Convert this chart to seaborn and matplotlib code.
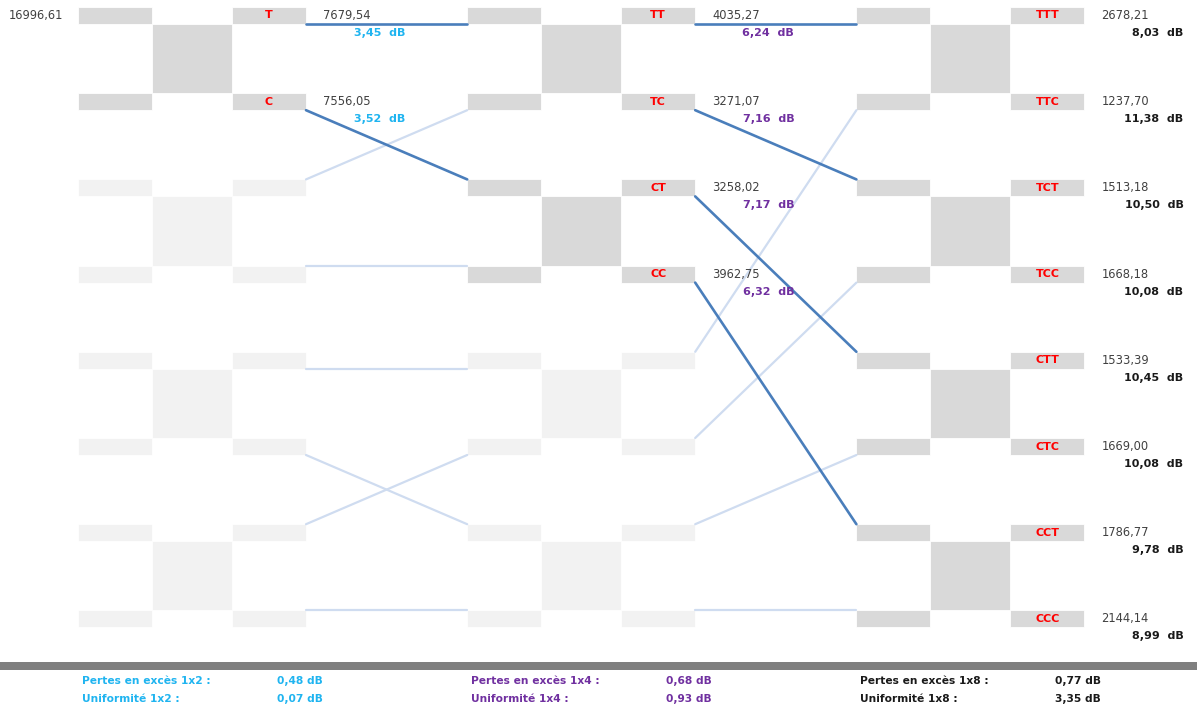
import pandas as pd
import matplotlib.pyplot as plt
from matplotlib.patches import Rectangle
import seaborn as sns

# --- data ---
input_power = 16996.61

stage1_ports = ["T", "C"]
stage1_power = [7679.54, 7556.05]
stage1_db = [3.45, 3.52]

stage2_ports = ["TT", "TC", "CT", "CC"]
stage2_power = [4035.27, 3271.07, 3258.02, 3962.75]
stage2_db = [6.24, 7.16, 7.17, 6.32]

stage3_ports = ["TTT", "TTC", "TCT", "TCC", "CTT", "CTC", "CCT", "CCC"]
stage3_power = [2678.21, 1237.70, 1513.18, 1668.18, 1533.39, 1669.00, 1786.77, 2144.14]
stage3_db = [8.03, 11.38, 10.50, 10.08, 10.45, 10.08, 9.78, 8.99]

split_names = ["1x2", "1x4", "1x8"]
excess_loss = [0.48, 0.68, 0.77]
uniformity = [0.07, 0.93, 3.35]

stage_colors = ["#1fb4f0", "#7030a0", "#1a1a1a"]

stages = [
    (stage1_ports, stage1_power, stage1_db),
    (stage2_ports, stage2_power, stage2_db),
    (stage3_ports, stage3_power, stage3_db),
]

# --- layout (pixel units) ---
W, H = 1197, 708
row_y0, row_step, box_h = 7, 86.2, 17
stage_x0, stage_step = 78, 389.2
small_w, big_w = 74, 80
n_rows = 8

DARK_BOX = "#d9d9d9"
LIGHT_BOX = "#f2f2f2"
DARK_LINE = "#4a7ebb"
LIGHT_LINE = "#cfdcf0"
TXT = "#404040"


def fmt(v):
    return f"{v:.2f}".replace(".", ",")


def top(r):
    return row_y0 + r * row_step


def bottom(r):
    return top(r) + box_h


sns.set_theme(style="white")
plt.rcParams["font.family"] = ["DejaVu Sans"]

fig = plt.figure(figsize=(W / 100, H / 100), dpi=100)
ax = fig.add_axes([0, 0, 1, 1])

# couplers
for k in range(3):
    x0 = stage_x0 + k * stage_step
    for j in range(4):
        c = DARK_BOX if j < 2 ** k else LIGHT_BOX
        r0, r1 = 2 * j, 2 * j + 1
        for r in (r0, r1):
            ax.add_patch(Rectangle((x0, top(r)), small_w, box_h, fc=c, ec="white", lw=0.6))
            ax.add_patch(Rectangle((x0 + small_w + big_w, top(r)), small_w, box_h,
                                   fc=c, ec="white", lw=0.6))
        ax.add_patch(Rectangle((x0 + small_w, bottom(r0)), big_w, top(r1) - bottom(r0),
                               fc=c, ec="white", lw=0.6))

# shuffle connections between stages
segs = []
for k, g in enumerate([4, 8]):
    xa = stage_x0 + k * stage_step + 2 * small_w + big_w
    xb = stage_x0 + (k + 1) * stage_step
    n_active = 2 ** (k + 1)
    for s in range(n_rows):
        p = s % g
        base = s - p
        d = base + (2 * p if p < g // 2 else 2 * (p - g // 2) + 1)
        if d > s:
            ya, yb = bottom(s), top(d)
        elif d < s:
            ya, yb = top(s), bottom(d)
        else:
            ya = yb = bottom(s) if p < g // 2 else top(s)
        seg_id = f"{k}-{s}"
        act = s < n_active
        segs.append({"seg": seg_id, "x": xa, "y": ya, "active": act})
        segs.append({"seg": seg_id, "x": xb, "y": yb, "active": act})
lines = pd.DataFrame(segs)

sns.lineplot(data=lines[~lines["active"]], x="x", y="y", units="seg", estimator=None,
             sort=False, color=LIGHT_LINE, lw=1.6, ax=ax)
sns.lineplot(data=lines[lines["active"]], x="x", y="y", units="seg", estimator=None,
             sort=False, color=DARK_LINE, lw=1.9, ax=ax)
ax.set_xlim(0, W)
ax.set_ylim(H, 0)
ax.axis("off")

# input power
ax.text(9, top(0) + box_h / 2, fmt(input_power), color=TXT, fontsize=8.3,
        ha="left", va="center")

# port labels, powers and dB values
for k, (ports, power, db) in enumerate(stages):
    x0 = stage_x0 + k * stage_step
    xl = x0 + small_w + big_w + small_w / 2
    for r, (name, pw, d) in enumerate(zip(ports, power, db)):
        yc = top(r) + box_h / 2
        ax.text(xl, yc, name, color="#ff0000", fontsize=8, fontweight="bold",
                ha="center", va="center")
        ax.text(x0 + 245, yc, fmt(pw), color=TXT, fontsize=8.3, ha="left", va="center")
        ax.text(x0 + 327, yc + 17.5, f"{fmt(d)}  dB", color=stage_colors[k],
                fontsize=8, fontweight="bold", ha="right", va="center")

# footer bar and summary
ax.add_patch(Rectangle((0, 662), W, 8, fc="#7f7f7f", ec="none"))
for k in range(3):
    x0 = stage_x0 + k * stage_step
    c = stage_colors[k]
    for yy, label, val in [(681.5, "Pertes en excès", excess_loss[k]),
                           (698.5, "Uniformité", uniformity[k])]:
        ax.text(x0 + 4, yy, f"{label} {split_names[k]} :", color=c,
                fontsize=7.7, fontweight="bold", ha="left", va="center")
        ax.text(x0 + 199, yy, f"{fmt(val)} dB", color=c,
                fontsize=7.7, fontweight="bold", ha="left", va="center")

fig.savefig("out.png", dpi=100, facecolor="white")
